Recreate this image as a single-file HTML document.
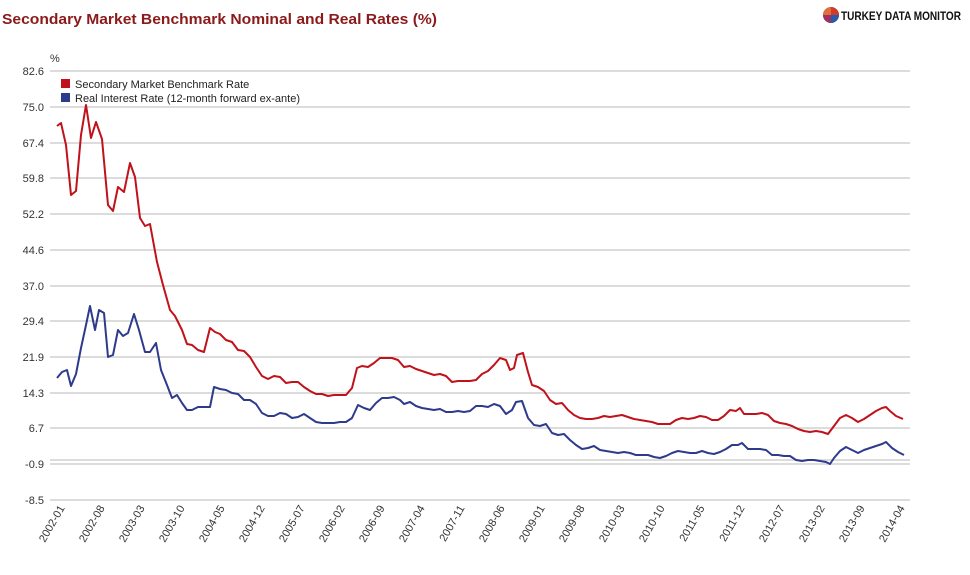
<!DOCTYPE html>
<html><head><meta charset="utf-8"><style>
body{margin:0;background:#fff;width:970px;height:570px;overflow:hidden;font-family:"Liberation Sans",Arial,sans-serif}
</style></head><body>
<svg width="970" height="570" xmlns="http://www.w3.org/2000/svg" font-family="Liberation Sans, Arial, sans-serif">
<text x="2" y="24" font-size="15" font-weight="bold" fill="#8b1a1a" textLength="435" lengthAdjust="spacingAndGlyphs">Secondary Market Benchmark Nominal and Real Rates (%)</text>
<g transform="translate(831,15)">
<circle r="8" fill="#5a4a9a"/><path d="M0 0 L0 -8 A8 8 0 0 1 8 0 Z" fill="#d23a2a"/><path d="M0 0 L-8 0 A8 8 0 0 1 0 -8Z" fill="#e0703a"/><path d="M0 0 L8 0 A8 8 0 0 1 0 8Z" fill="#2a5aa8"/><path d="M0 0 L0 8 A8 8 0 0 1 -8 0Z" fill="#a03060"/>
</g>
<text x="841" y="20" font-size="11.5" font-weight="bold" fill="#111" textLength="120" lengthAdjust="spacingAndGlyphs">TURKEY DATA MONITOR</text>
<text x="50" y="62" font-size="11" fill="#333">%</text>
<g stroke="#dcdcdc" stroke-width="2">
<line x1="50" x2="910" y1="71" y2="71"/><line x1="50" x2="910" y1="107" y2="107"/><line x1="50" x2="910" y1="143" y2="143"/><line x1="50" x2="910" y1="178" y2="178"/><line x1="50" x2="910" y1="214" y2="214"/><line x1="50" x2="910" y1="250" y2="250"/><line x1="50" x2="910" y1="286" y2="286"/><line x1="50" x2="910" y1="321" y2="321"/><line x1="50" x2="910" y1="357" y2="357"/><line x1="50" x2="910" y1="393" y2="393"/><line x1="50" x2="910" y1="428" y2="428"/><line x1="50" x2="910" y1="460" y2="460"/><line x1="50" x2="910" y1="464" y2="464"/><line x1="50" x2="910" y1="500" y2="500"/>
</g>
<g font-size="11" fill="#333" text-anchor="end">
<text x="44" y="75">82.6</text><text x="44" y="111">75.0</text><text x="44" y="147">67.4</text><text x="44" y="182">59.8</text><text x="44" y="218">52.2</text><text x="44" y="254">44.6</text><text x="44" y="290">37.0</text><text x="44" y="325">29.4</text><text x="44" y="361">21.9</text><text x="44" y="397">14.3</text><text x="44" y="432">6.7</text><text x="44" y="468">-0.9</text><text x="44" y="504">-8.5</text>
</g>
<rect x="61" y="79" width="9" height="9" fill="#c0121a"/>
<text x="75" y="88" font-size="11" fill="#222">Secondary Market Benchmark Rate</text>
<rect x="61" y="93" width="9" height="9" fill="#2e3a8c"/>
<text x="75" y="102" font-size="11" fill="#222">Real Interest Rate (12-month forward ex-ante)</text>
<polyline fill="none" stroke="#c0121a" stroke-width="2" stroke-linejoin="round" points="57,126 61,123 66,145 71,195 76,191 81,135 86,105 91,138 96,122 102,139 108,205 113,211 118,187 124,192 130,163 135,177 140,218 145,226 150,224 157,262 163,285 170,310 175,316 182,330 187,344 192,345 198,350 204,352 210,328 215,332 220,334 226,340 232,342 238,350 244,351 250,357 256,367 262,376 268,379 274,376 280,377 286,383 292,382 298,382 304,387 310,391 316,394 322,394 328,396 334,395 340,395 346,395 352,388 357,368 362,366 368,367 374,363 380,358 386,358 392,358 398,360 404,367 410,366 416,369 422,371 428,373 434,375 440,374 446,376 452,382 458,381 464,381 470,381 476,380 482,374 488,371 494,365 500,358 506,360 510,370 514,368 517,355 523,353 528,372 532,385 538,387 544,391 550,400 556,404 562,403 568,410 574,415 580,418 586,419 592,419 598,418 604,416 610,417 616,416 622,415 628,417 634,419 640,420 646,421 652,422 658,424 664,424 670,424 676,420 682,418 688,419 694,418 700,416 706,417 712,420 718,420 724,416 730,410 736,411 740,408 744,414 750,414 756,414 762,413 768,415 774,421 780,423 786,424 792,426 798,429 804,431 810,432 816,431 822,432 828,434 834,426 840,418 846,415 852,418 858,422 864,419 870,415 876,411 882,408 886,407 890,411 896,416 903,419"/>
<polyline fill="none" stroke="#2e3a8c" stroke-width="2" stroke-linejoin="round" points="57,378 62,372 67,370 71,386 76,374 81,348 86,325 90,306 95,330 99,310 104,313 108,357 113,355 118,330 123,336 128,333 134,314 139,330 145,352 150,352 156,343 161,370 167,385 172,398 177,395 182,403 187,410 192,410 198,407 204,407 210,407 214,387 220,389 226,390 232,393 238,394 244,400 250,400 256,404 262,413 268,416 274,416 280,413 286,414 292,418 298,417 304,414 310,418 316,422 322,423 328,423 334,423 340,422 346,422 352,418 358,405 364,408 370,410 376,403 382,398 388,398 394,397 400,400 404,404 410,402 416,406 422,408 428,409 434,410 440,409 446,412 452,412 458,411 464,412 470,411 476,406 482,406 488,407 494,404 500,406 506,414 512,410 516,402 522,401 528,418 534,425 540,426 546,424 552,433 558,435 564,434 570,440 576,445 582,449 588,448 594,446 600,450 606,451 612,452 618,453 624,452 630,453 636,455 642,455 648,455 654,457 660,458 666,456 672,453 678,451 684,452 690,453 696,453 702,451 708,453 714,454 720,452 726,449 732,445 738,445 742,443 748,449 754,449 760,449 766,450 772,455 778,455 784,456 790,456 796,460 802,461 808,460 814,460 820,461 826,462 830,464 834,458 840,451 846,447 852,450 858,453 864,450 870,448 876,446 882,444 886,442 892,448 898,452 904,455"/>
<g font-size="11" fill="#333" text-anchor="end">
<text transform="translate(65,508) rotate(-60)">2002-01</text>
<text transform="translate(105,508) rotate(-60)">2002-08</text>
<text transform="translate(145,508) rotate(-60)">2003-03</text>
<text transform="translate(185,508) rotate(-60)">2003-10</text>
<text transform="translate(225,508) rotate(-60)">2004-05</text>
<text transform="translate(265,508) rotate(-60)">2004-12</text>
<text transform="translate(305,508) rotate(-60)">2005-07</text>
<text transform="translate(345,508) rotate(-60)">2006-02</text>
<text transform="translate(385,508) rotate(-60)">2006-09</text>
<text transform="translate(425,508) rotate(-60)">2007-04</text>
<text transform="translate(465,508) rotate(-60)">2007-11</text>
<text transform="translate(505,508) rotate(-60)">2008-06</text>
<text transform="translate(545,508) rotate(-60)">2009-01</text>
<text transform="translate(585,508) rotate(-60)">2009-08</text>
<text transform="translate(625,508) rotate(-60)">2010-03</text>
<text transform="translate(665,508) rotate(-60)">2010-10</text>
<text transform="translate(705,508) rotate(-60)">2011-05</text>
<text transform="translate(745,508) rotate(-60)">2011-12</text>
<text transform="translate(785,508) rotate(-60)">2012-07</text>
<text transform="translate(825,508) rotate(-60)">2013-02</text>
<text transform="translate(865,508) rotate(-60)">2013-09</text>
<text transform="translate(905,508) rotate(-60)">2014-04</text>
</g>
</svg>
</body></html>
